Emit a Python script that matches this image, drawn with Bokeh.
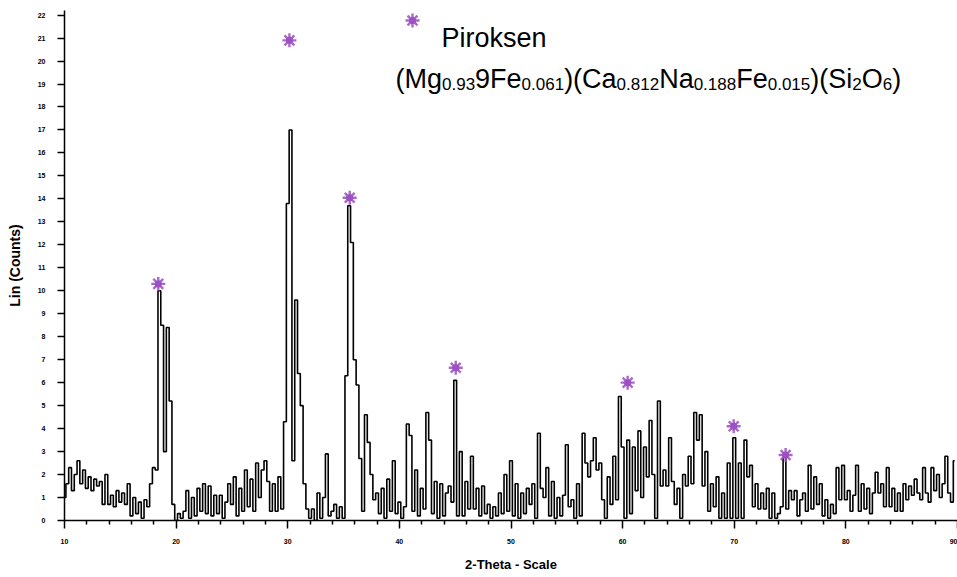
import numpy as np
from bokeh.plotting import figure
from bokeh.models import ColumnDataSource, FixedTicker
from bokeh.core.properties import value
from bokeh.embed import file_html
from bokeh.resources import INLINE

# ---------------- data ----------------
THETA_START = 10.0
THETA_STEP = 0.25
counts = [
    1.0, 1.6, 2.3, 1.3,   2.0, 2.6, 1.6, 2.2,   1.4, 1.9, 1.3, 1.8,   1.5, 1.7, 0.7, 2.0,   # 10-13
    0.7, 1.1, 0.6, 1.3,   0.8, 1.2, 0.7, 1.6,   0.2, 1.0, 0.3, 0.8,   0.1, 0.9, 0.6, 1.6,   # 14-17
    2.3, 2.2, 10.0, 8.5,  3.0, 8.4, 5.2, 0.7,   0.0, 0.3, 0.1, 0.4,   1.3, 0.1, 1.0, 0.2,   # 18-21
    1.4, 0.4, 1.6, 0.3,   1.5, 0.2, 1.1, 0.3,   1.1, 0.1, 0.8, 1.6,   0.7, 1.9, 0.2, 1.4,   # 22-25
    0.4, 2.2, 0.6, 1.8,   0.4, 2.5, 1.0, 2.2,   2.6, 1.7, 0.4, 1.6,   0.4, 1.9, 0.5, 4.3,   # 26-29
    13.8, 17.0, 2.6, 9.6, 6.4, 5.0, 1.6, 0.5,   0.1, 0.5, 0.0, 1.2,   0.1, 1.0, 2.9, 0.2,   # 30-33
    0.4, 0.7, 0.1, 0.6,   0.1, 6.3, 13.7, 12.1, 7.0, 5.9, 2.7, 0.4,   4.6, 3.4, 2.0, 0.9,   # 34-37
    1.2, 0.3, 1.4, 0.1,   1.8, 0.4, 2.6, 0.3,   0.8, 0.1, 0.6, 4.2,   3.7, 0.4, 2.2, 0.2,   # 38-41
    1.4, 0.5, 4.7, 3.5,   0.3, 1.7, 0.1, 1.6,   0.2, 1.2, 1.5, 0.8,   6.1, 0.2, 3.0, 0.2,   # 42-45
    1.7, 0.5, 2.8, 0.5,   1.4, 0.2, 1.5, 0.3,   0.7, 0.1, 0.6, 0.2,   1.2, 0.3, 2.0, 0.4,   # 46-49
    2.6, 0.2, 1.6, 0.1,   1.2, 0.3, 1.4, 0.7,   1.6, 0.1, 3.8, 1.4,   1.0, 2.3, 0.2, 1.7,   # 50-53
    0.1, 1.0, 0.2, 1.1,   3.3, 0.6, 0.9, 0.1,   1.6, 0.2, 3.8, 2.5,   1.9, 2.6, 3.6, 2.2,   # 54-57
    2.5, 0.9, 0.1, 1.9,   0.7, 2.8, 0.9, 5.4,   3.2, 0.1, 3.5, 0.3,   3.2, 1.3, 3.9, 1.0,   # 58-61
    3.2, 1.9, 4.35, 2.0,  0.1, 5.2, 1.5, 2.2,   1.5, 3.6, 1.7, 0.7,   1.4, 0.1, 2.0, 1.5,   # 62-65
    2.8, 1.6, 4.7, 3.5,   4.6, 1.5, 3.0, 0.4,   1.6, 0.6, 1.9, 0.1,   1.2, 0.1, 2.5, 0.1,   # 66-69
    3.6, 0.1, 2.5, 0.1,   3.5, 1.9, 2.4, 0.6,   1.6, 0.5, 1.2, 0.5,   1.4, 0.1, 1.2, 0.1,   # 70-73
    0.3, 0.6, 2.75, 0.5,  1.3, 0.9, 1.3, 0.2,   0.9, 1.2, 0.4, 2.4,   0.5, 1.9, 0.7, 1.6,   # 74-77
    0.2, 0.9, 0.1, 0.7,   0.3, 2.3, 0.9, 2.4,   0.9, 1.3, 0.4, 1.1,   2.4, 0.4, 1.6, 0.5,   # 78-81
    1.4, 0.3, 1.2, 2.1,   1.2, 1.6, 0.6, 2.3,   0.6, 1.4, 0.4, 1.2,   0.4, 1.6, 0.9, 1.5,   # 82-85
    1.1, 1.8, 1.2, 0.9,   2.3, 1.2, 0.8, 2.3,   1.3, 2.0, 1.0, 1.6,   2.8, 1.2, 0.8, 2.6,   # 86-89
]
two_theta = [round(THETA_START + i * THETA_STEP, 2) for i in range(len(counts))]

# Piroksen reflections (marker positions)
peak_theta = [18.4, 30.15, 35.55, 45.05, 60.45, 69.95, 74.6]
peak_counts = [10.3, 20.9, 14.05, 6.65, 6.0, 4.1, 2.85]

x_tick_values = [10, 20, 30, 40, 50, 60, 70, 80, 90]
x_minor_values = [v + d for v in range(10, 90, 10) for d in (2, 4, 6, 8)]
y_tick_values = list(range(0, 23))

legend_title = "Piroksen"
formula_parts = [("(Mg", False), ("0.93", True), ("9Fe", False), ("0.061", True),
                 (")(Ca", False), ("0.812", True), ("Na", False), ("0.188", True),
                 ("Fe", False), ("0.015", True), (")(Si", False), ("2", True),
                 ("O", False), ("6", True), (")", False)]

# ---------------- layout ----------------
PURPLE = "#9a4fbf"
FONT = "Liberation Sans"
X_MIN, X_MAX = 10, 90
Y_MIN, Y_MAX = 0, 22.2
FRAME_LEFT, FRAME_W = 64, 893
FRAME_TOP, FRAME_H = 10, 510
W, H = 957, 577

p = figure(width=W, height=H, x_range=(X_MIN, X_MAX), y_range=(Y_MIN, Y_MAX),
           output_backend="svg", toolbar_location=None,
           min_border_left=FRAME_LEFT, min_border_right=W - FRAME_LEFT - FRAME_W,
           min_border_top=FRAME_TOP, min_border_bottom=H - FRAME_TOP - FRAME_H)
p.outline_line_color = None
p.xgrid.visible = False
p.ygrid.visible = False
p.background_fill_color = "white"
p.border_fill_color = "white"

# helpers: canvas pixel -> data coords
PXD = FRAME_W / (X_MAX - X_MIN)
PYD = FRAME_H / (Y_MAX - Y_MIN)
def px_x(px):
    return X_MIN + (px - FRAME_LEFT) / PXD
def px_y(py):
    return Y_MIN + (FRAME_TOP + FRAME_H - py) / PYD

# axes
p.xaxis.ticker = FixedTicker(ticks=x_tick_values, minor_ticks=x_minor_values)
p.yaxis.ticker = FixedTicker(ticks=y_tick_values)
for ax in (p.xaxis[0], p.yaxis[0]):
    ax.axis_line_color = "black"
    ax.axis_line_width = 1.5
    ax.major_tick_line_color = "black"
    ax.major_tick_line_width = 1.5
    ax.minor_tick_line_color = "black"
    ax.minor_tick_line_width = 1.5
    ax.major_tick_in = 0
    ax.minor_tick_in = 0
    ax.major_label_text_font = FONT
    ax.major_label_text_font_style = "bold"
    ax.major_label_text_font_size = "7px"
    ax.major_label_text_color = "black"
    ax.axis_label_text_font = FONT
    ax.axis_label_text_font_style = "bold"
    ax.axis_label_text_font_size = "13px"
    ax.axis_label_text_color = "black"
p.yaxis.axis_label_text_font_size = "14px"
p.xaxis.major_tick_out = 8
p.xaxis.minor_tick_out = 4
p.yaxis.major_tick_out = 7
p.xaxis.major_label_standoff = 10
p.yaxis.major_label_standoff = 12
p.xaxis.axis_label = "2-Theta - Scale"
p.yaxis.axis_label = "Lin (Counts)"
p.xaxis.axis_label_standoff = 10
p.yaxis.axis_label_standoff = 12

# diffraction pattern (drawn as steps, like the digitised scan)
p.step(two_theta, counts, mode="center", line_color="black", line_width=1.6)

# reflection markers
def star(xs, ys):
    p.scatter(xs, ys, marker="circle", size=7, fill_color=PURPLE, line_color=None, fill_alpha=0.9)
    p.scatter(xs, ys, marker="asterisk", size=14, line_color=PURPLE, line_width=2.4, line_alpha=0.85)

star(peak_theta, peak_counts)

# legend (star + name + formula)
star([px_x(412)], [px_y(20)])

ARIAL_W = {"(": 333, ")": 333, ".": 278, "M": 833, "g": 556, "F": 611, "e": 556,
           "C": 722, "a": 556, "N": 722, "S": 667, "i": 222, "O": 778}
for d in "0123456789":
    ARIAL_W[d] = 556

def tw(s, size):
    return sum(ARIAL_W[c] for c in s) / 1000.0 * size

MAIN_SIZE, SUB_SIZE = 27, 17
p.text(x=[px_x(441)], y=[px_y(37)], text=[legend_title], text_font=value(FONT),
       text_font_size=f"{MAIN_SIZE}px", text_baseline="alphabetic", text_align="left",
       text_color="black")

cur = 395.0
main_src = dict(x=[], y=[], text=[])
sub_src = dict(x=[], y=[], text=[])
BASE = 78
for txt, is_sub in formula_parts:
    if is_sub:
        sub_src["x"].append(px_x(cur)); sub_src["y"].append(px_y(BASE + 5)); sub_src["text"].append(txt)
        cur += tw(txt, SUB_SIZE)
    else:
        main_src["x"].append(px_x(cur)); main_src["y"].append(px_y(BASE)); main_src["text"].append(txt)
        cur += tw(txt, MAIN_SIZE)

p.text(x="x", y="y", text="text", source=ColumnDataSource(main_src), text_font=value(FONT),
       text_font_size=f"{MAIN_SIZE}px", text_baseline="alphabetic", text_align="left",
       text_color="black")
p.text(x="x", y="y", text="text", source=ColumnDataSource(sub_src), text_font=value(FONT),
       text_font_size=f"{SUB_SIZE}px", text_baseline="alphabetic", text_align="left",
       text_color="black")

open("out.html", "w").write(file_html(p, INLINE))
